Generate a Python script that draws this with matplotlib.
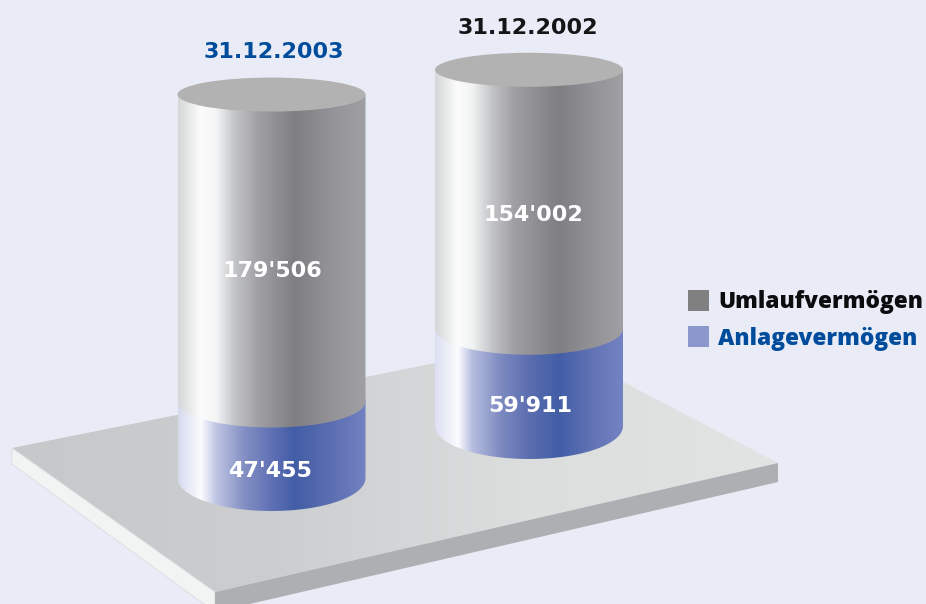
import numpy as np
import matplotlib
matplotlib.use("Agg")
import matplotlib.pyplot as plt
from matplotlib.colors import LinearSegmentedColormap
from matplotlib.patches import Polygon, Ellipse, Rectangle

dates = ["31.12.2003", "31.12.2002"]
umlauf = [179506, 154002]
anlage = [47455, 59911]
umlauf_labels = ["179'506", "154'002"]
anlage_labels = ["47'455", "59'911"]
legend_names = ["Umlaufvermögen", "Anlagevermögen"]

# layout in reference pixels
W, H = 926, 604
centers = [271.5, 529]
front_bottom = [511, 459]  # lowest point of each cylinder
px_per_unit = [0.00176, 0.00174]  # back cylinder is drawn a bit smaller
rx = 94
ry_top, ry_mid, ry_bot = 17, 26, 33  # arcs get rounder further down
date_pos = [(274, 52), (528, 28)]
umlauf_y = [271, 215]
anlage_y = [471, 406]
label_x = [[272, 533], [270, 530]]

BG = "#e9ecf6"
BLUE_TXT = "#004c9c"
BLACK_TXT = "#151518"

grey_cmap = [LinearSegmentedColormap.from_list("g", [
    (0, "#d6d7d8"), (0.12, "#fbfcfb"), (0.2, "#f4f5f5"), (0.3, "#c4c5c8"), (0.42, "#a2a2a6"),
    (0.62, "#7f7e82"), (0.8, "#929296"), (1, "#a0a0a4")]),
    LinearSegmentedColormap.from_list("g2", [
    (0, "#d6d7d8"), (0.12, "#fcfdfc"), (0.2, "#f0f1f1"), (0.3, "#c4c5c8"), (0.42, "#a0a0a4"),
    (0.66, "#7f7e82"), (0.85, "#949498"), (1, "#a0a0a4")])]
blue_cmap = [LinearSegmentedColormap.from_list("b", [
    (0, "#d6daee"), (0.12, "#fbfcfe"), (0.2, "#c0c6e4"), (0.35, "#8490c4"), (0.5, "#6070b4"),
    (0.62, "#425ea6"), (0.8, "#5a6cb0"), (1, "#7282c2")]),
    LinearSegmentedColormap.from_list("b2", [
    (0, "#dde0f2"), (0.12, "#fbfcfe"), (0.2, "#b4bcde"), (0.35, "#7d8ac0"), (0.5, "#5c6eb0"),
    (0.66, "#425ea6"), (0.85, "#6474b6"), (1, "#7282c2")])]
plate_cmap = LinearSegmentedColormap.from_list("p", ["#c6c8ca", "#cbcdcf", "#dcdddd", "#e2e3e3"])

fig = plt.figure(figsize=(W / 100, H / 100), dpi=100, facecolor=BG)
ax = fig.add_axes([0, 0, 1, 1])
ax.set_facecolor(BG)


def gradient(cmap, x0, x1, y0, y1, clip, zorder):
    g = np.linspace(0, 1, 400).reshape(1, -1)
    im = ax.imshow(g, cmap=cmap, extent=(x0, x1, y1, y0), aspect="auto", zorder=zorder)
    im.set_clip_path(clip)


def body(cx, top, front, ry, cmap, zorder):
    t = np.linspace(0, np.pi, 120)
    pts = np.column_stack([cx + rx * np.cos(t), front - ry + ry * np.sin(t)])
    pts = np.vstack([[[cx + rx, top]], pts, [[cx - rx, top]]])
    p = Polygon(pts, closed=True, fc="none", ec="none", zorder=zorder)
    ax.add_patch(p)
    gradient(cmap, cx - rx, cx + rx, top, front + 1, p, zorder)


# platform
plate = Polygon([(12, 448), (545, 341), (778, 463), (215, 592)], closed=True, fc="none", ec="none", zorder=1)
ax.add_patch(plate)
gradient(plate_cmap, 12, 778, 341, 592, plate, 1)
ax.add_patch(Polygon([(12, 448), (215, 592), (215, 612), (12, 464)], closed=True, fc="#f2f3f3", ec="#dcdde0", lw=0.6, zorder=1))
ax.add_patch(Polygon([(215, 592), (778, 463), (778, 482), (215, 612)], closed=True, fc="#aeafb2", ec="none", zorder=1))

# cylinders
for i in range(2):
    cx = centers[i]
    front_mid = front_bottom[i] - anlage[i] * px_per_unit[i]
    front_top = front_mid - umlauf[i] * px_per_unit[i]
    body(cx, front_mid - ry_mid - 2, front_bottom[i], ry_bot, blue_cmap[i], 2)
    body(cx, front_top - ry_top, front_mid, ry_mid, grey_cmap[i], 3)
    ax.add_patch(Ellipse((cx, front_top - ry_top), 2 * rx, 2 * ry_top, fc="#b2b2b2", ec="none", zorder=4))
    ax.text(label_x[0][i], umlauf_y[i], umlauf_labels[i], color="white", fontsize=16, fontweight="bold",
            ha="center", va="center", zorder=5)
    ax.text(label_x[1][i], anlage_y[i], anlage_labels[i], color="white", fontsize=16, fontweight="bold",
            ha="center", va="center", zorder=5)
    ax.text(date_pos[i][0], date_pos[i][1], dates[i], color=[BLUE_TXT, BLACK_TXT][i], fontsize=16,
            fontweight="bold", ha="center", va="center", zorder=5)

# legend
ax.add_patch(Rectangle((688, 290), 21, 21, fc="#808080", ec="none"))
ax.add_patch(Rectangle((688, 326), 21, 21, fc="#8c98cb", ec="none"))
ax.text(718, 302, legend_names[0], color="#0c0c0e", fontsize=16.3, fontweight="heavy", family="Open Sans", va="center")
ax.text(718, 339, legend_names[1], color=BLUE_TXT, fontsize=16.3, fontweight="heavy", family="Open Sans", va="center")

ax.set_xlim(0, W)
ax.set_ylim(H, 0)
ax.axis("off")
fig.savefig("out.png", dpi=100, facecolor=BG)
